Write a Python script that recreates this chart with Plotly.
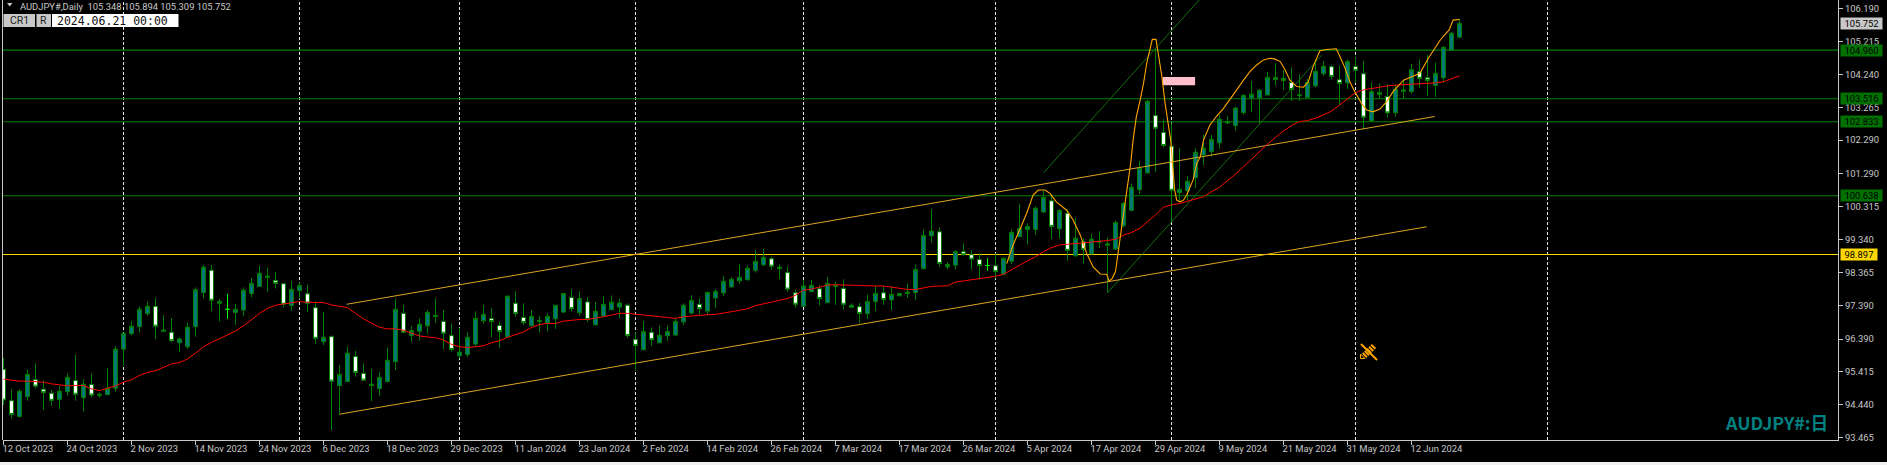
import plotly.graph_objects as go

opens = [95.49,94.56,94.09,94.68,95.19,94.90,94.78,94.60,94.83,95.16,
94.65,95.04,94.72,94.74,94.93,96.09,96.55,96.76,97.14,97.36,
96.62,96.59,96.28,96.16,96.76,97.77,98.43,97.45,97.27,97.18,
97.25,97.74,97.95,98.22,98.13,98.03,97.38,97.83,97.73,97.32,
96.31,96.46,95.01,95.13,95.87,95.37,95.01,94.92,95.13,95.72,
97.15,96.49,96.62,96.78,97.06,96.91,96.49,95.89,95.93,96.24,
96.93,97.00,96.79,96.45,97.45,97.03,96.78,96.91,96.86,96.99,
97.19,97.62,97.17,97.49,96.81,97.07,97.26,97.34,97.39,96.38,
96.07,96.59,96.28,96.49,96.51,96.90,97.16,97.42,97.22,97.61,
97.76,97.94,98.12,98.15,98.43,98.59,98.77,98.48,98.36,97.76,
97.36,97.80,97.88,97.47,97.95,97.89,97.33,97.35,97.14,97.50,
97.76,97.55,97.67,97.74,97.77,98.48,99.45,99.57,98.53,98.58,
98.98,98.89,98.75,98.57,98.56,98.31,98.70,99.43,99.64,99.64,
100.16,100.49,99.66,100.12,98.86,99.28,98.92,99.26,99.17,99.06,
99.75,100.21,100.82,101.32,103.02,102.52,102.11,100.73,100.79,101.18,
101.85,101.95,102.21,102.80,102.72,103.11,103.54,103.54,103.63,104.09,
104.12,104.00,103.61,103.56,103.90,104.26,104.47,104.08,103.99,104.47,
104.26,102.86,103.64,103.58,103.10,103.74,103.73,104.32,104.14,103.91,
104.14,104.96,105.348]
highs = [95.82,94.90,94.90,95.49,95.67,95.17,94.88,95.00,95.37,95.92,
95.20,95.37,94.80,95.52,96.18,96.58,96.93,97.35,97.50,97.60,
97.10,97.01,96.44,96.88,97.92,98.58,98.59,97.57,97.73,97.43,
97.92,98.20,98.56,98.51,98.38,98.03,98.11,98.07,98.00,97.50,
97.19,96.50,95.62,96.16,96.04,95.67,95.50,95.42,96.14,97.58,
97.40,96.77,97.00,97.25,97.59,97.25,96.85,96.72,96.59,97.21,
97.40,97.30,96.90,97.68,97.81,97.45,97.25,97.07,97.15,97.39,
97.76,97.86,97.81,97.63,97.49,97.66,97.68,97.59,97.45,96.59,
96.92,96.73,96.79,96.79,97.02,97.45,97.69,97.59,97.79,97.87,
98.26,98.23,98.60,98.57,99.03,99.06,98.83,98.60,98.54,97.86,
98.14,98.14,97.99,98.23,98.09,98.16,97.45,97.46,97.71,97.96,
97.96,97.96,97.74,98.04,98.60,99.64,100.24,99.70,98.67,99.02,
99.23,99.03,98.93,98.79,98.93,98.81,99.64,100.40,99.82,100.33,
100.79,100.68,100.24,100.24,99.99,99.38,99.52,99.59,99.40,99.90,
100.45,101.00,101.67,103.48,105.01,102.91,102.79,102.05,101.22,102.05,
102.46,102.44,103.04,103.01,103.28,103.64,104.04,103.80,104.32,104.57,
104.37,104.45,104.24,104.11,104.69,104.64,104.52,104.49,104.68,104.75,
104.64,104.00,103.97,103.95,103.94,104.07,104.55,104.69,104.82,104.59,
105.08,105.50,105.894]
lows = [94.43,94.03,94.07,94.56,94.93,94.29,94.41,94.31,94.71,94.56,
94.24,94.66,94.65,94.74,94.83,95.59,96.49,96.58,97.08,96.39,
96.61,96.30,96.01,96.10,96.46,97.60,97.22,96.91,96.99,96.81,
97.07,97.63,97.94,97.79,97.89,97.32,97.22,97.57,97.20,96.24,
96.21,93.69,94.16,95.13,95.27,95.16,94.55,94.71,95.10,95.47,
96.56,96.31,96.34,96.56,96.87,96.09,96.01,95.81,95.86,96.16,
96.85,96.44,96.13,96.43,97.05,96.80,96.78,96.58,96.62,96.69,
97.16,97.22,97.08,96.90,96.80,97.05,97.25,97.02,96.42,95.45,
96.06,96.19,96.26,96.33,96.48,96.81,97.12,97.12,97.10,97.31,
97.67,97.91,98.03,98.12,98.36,98.56,98.44,98.17,97.79,97.32,
97.35,97.77,97.38,97.45,97.40,97.26,97.32,96.86,96.98,97.22,
97.40,97.25,97.67,97.61,97.55,98.45,99.25,98.53,98.46,98.46,
98.87,98.46,98.16,98.42,98.19,98.28,98.62,99.41,99.19,99.48,
100.13,99.36,99.38,98.71,98.83,98.63,98.89,99.09,97.77,99.03,
99.69,100.17,100.69,101.29,101.35,102.08,99.87,100.46,100.51,100.87,
101.55,101.80,102.03,102.76,102.57,103.04,103.12,102.77,103.63,103.91,
103.78,103.45,103.45,103.54,103.85,104.19,104.11,103.33,103.81,103.99,
102.61,102.84,103.53,102.96,102.99,103.53,103.66,103.83,103.60,103.57,
104.00,104.94,105.309]
closes = [94.58,94.15,94.84,95.34,94.99,94.80,94.57,94.84,95.25,94.75,
95.05,94.73,94.75,94.93,96.09,96.56,96.77,97.27,97.36,96.77,
96.65,96.34,96.39,96.74,97.85,98.52,97.54,97.50,97.27,97.27,
97.84,98.04,98.34,98.25,98.04,97.42,97.86,97.98,97.45,96.41,
96.44,95.14,95.34,95.97,95.40,95.17,95.05,95.25,95.76,97.27,
96.59,96.64,96.83,97.18,97.09,96.56,96.08,96.00,96.44,97.00,
97.12,96.91,96.61,97.66,97.15,96.88,97.06,96.94,97.06,97.39,
97.74,97.29,97.59,96.97,97.21,97.42,97.48,97.46,96.49,96.20,
96.61,96.37,96.50,96.61,96.91,97.39,97.53,97.29,97.77,97.80,
98.10,98.16,98.22,98.49,98.69,98.81,98.55,98.52,97.87,97.42,
97.96,97.98,97.59,98.04,97.99,97.42,97.39,97.15,97.50,97.74,
97.56,97.71,97.74,97.78,98.45,99.46,99.59,98.63,98.60,98.98,
98.89,98.76,98.57,98.57,98.39,98.78,99.55,99.67,99.73,100.27,
100.59,99.73,100.20,99.02,99.38,99.05,99.35,99.29,99.21,99.84,
100.41,100.89,101.46,103.44,102.64,102.13,100.80,100.83,101.07,101.93,
102.05,102.31,102.91,102.84,103.24,103.62,103.65,103.77,104.15,104.15,
104.06,103.79,103.63,104.00,104.33,104.48,104.18,103.97,104.62,104.36,
102.97,103.73,103.70,103.10,103.80,103.78,104.38,104.12,104.06,104.27,
105.04,105.46,105.752]
ma_values = [95.20,95.16,95.14,95.14,95.13,95.11,95.06,95.03,95.00,95.01,
95.01,94.91,94.86,94.93,95.00,95.11,95.18,95.31,95.40,95.45,
95.55,95.65,95.69,95.80,95.97,96.16,96.29,96.39,96.51,96.63,
96.78,96.96,97.15,97.30,97.39,97.43,97.47,97.50,97.48,97.48,
97.47,97.40,97.35,97.32,97.15,96.99,96.86,96.74,96.69,96.69,
96.65,96.56,96.48,96.45,96.43,96.36,96.23,96.16,96.14,96.16,
96.19,96.28,96.34,96.44,96.53,96.60,96.73,96.82,96.85,96.85,
96.92,96.95,96.97,96.97,97.00,97.05,97.10,97.15,97.15,97.13,
97.09,97.07,97.06,97.03,97.00,97.05,97.07,97.10,97.11,97.12,
97.15,97.20,97.24,97.29,97.38,97.43,97.48,97.52,97.59,97.69,
97.84,97.87,97.94,97.99,98.00,98.00,98.00,97.98,97.97,97.97,
97.96,97.93,97.89,97.86,97.86,97.90,97.95,97.96,97.97,98.08,
98.11,98.14,98.17,98.22,98.25,98.31,98.45,98.58,98.71,98.83,
98.98,99.10,99.18,99.20,99.22,99.24,99.25,99.28,99.31,99.35,
99.47,99.55,99.67,99.87,100.07,100.30,100.37,100.41,100.48,100.56,
100.61,100.76,100.89,101.09,101.28,101.50,101.73,101.95,102.17,102.37,
102.56,102.72,102.84,102.87,102.94,103.04,103.15,103.33,103.51,103.70,
103.78,103.82,103.87,103.90,103.92,103.93,103.95,103.97,103.97,103.99,
104.02,104.10,104.20]
curve_bars = [125.4,126.2,127.1,127.9,128.7,129.35,130.2,130.8,131.6,132.9,133.7,134.6,135.4,136.2,137.1,137.9,
138.2,138.6,139.0,139.3,139.5,139.8,140.4,140.9,141.2,141.6,142.1,142.5,142.9,143.3,143.6,144.06,144.35,144.8,
145.2,145.6,145.9,146.15,146.4,146.65,147.06,147.5,147.9,148.7,149.15,149.6,150,150.8,151.6,152.5,153.3,154.15,
155,155.8,156.65,157.5,158.3,158.9,159.6,160.2,160.8,161.65,162.5,163.1,163.7,164.55,165.4,166.6,167.06,167.7,
168.3,168.9,169.75,170.4,171.2,172.06,172.9,173.7,175,177.06,178.1,178.9,179.6,180.2,180.7,181.2,181.8,182]
curve_prices = [98.63,99.18,99.67,100.12,100.66,100.81,100.81,100.71,100.46,100.21,99.92,99.47,98.93,98.53,98.32,98.31,
98.11,98.19,98.39,98.83,99.24,99.77,100.81,101.60,102.29,102.98,103.50,103.97,104.57,105.01,105.28,105.28,104.86,104.17,
103.38,102.79,102.29,101.50,100.81,100.51,100.46,100.51,100.66,101.11,101.60,101.80,102.29,102.74,102.99,103.23,103.48,103.78,
104.07,104.32,104.52,104.67,104.72,104.70,104.62,104.37,104.07,103.88,103.86,104.02,104.47,104.94,104.98,105.00,104.77,104.42,
104.02,103.73,103.38,103.18,103.13,103.21,103.43,103.73,104.07,104.27,104.72,105.01,105.26,105.43,105.56,105.85,105.87,105.87]
channel_upper_bars = [42.9, 178.9]
channel_upper_prices = [97.42, 102.99]
channel_lower_bars = [42.0, 177.9]
channel_lower_prices = [94.16, 99.72]
fan_a_bars = [130.0, 149.5]
fan_a_prices = [101.32, 106.46]
fan_b_bars = [138.0, 164.77]
fan_b_prices = [97.76, 104.81]
level_prices = [104.960, 103.516, 102.833, 100.638]
level_labels = ["104.960", "103.516", "102.833", "100.638"]
yellow_price = 98.897
last_price = 105.752
separator_bars = [15, 37, 57, 79, 100, 124, 146, 169, 193]
x_tick_bars = list(range(0, 177, 8))
x_tick_labels = ["12 Oct 2023","24 Oct 2023","2 Nov 2023","14 Nov 2023","24 Nov 2023","6 Dec 2023","18 Dec 2023",
"29 Dec 2023","11 Jan 2024","23 Jan 2024","2 Feb 2024","14 Feb 2024","26 Feb 2024","7 Mar 2024","17 Mar 2024",
"26 Mar 2024","5 Apr 2024","17 Apr 2024","29 Apr 2024","9 May 2024","21 May 2024","31 May 2024","12 Jun 2024"]
y_ticks = [106.190,105.215,104.240,103.265,102.290,101.290,100.315,99.340,98.365,97.390,96.390,95.415,94.440,93.465]
y_tick_labels = ["%.3f" % v for v in y_ticks]
flat_bars = [28, 123]

bars = list(range(len(opens)))
if not (len(opens) == len(highs) == len(lows) == len(closes) == len(ma_values) == 183):
    raise SystemExit(f"{len(opens)} {len(highs)} {len(lows)} {len(closes)} {len(ma_values)}")

W, H = 1887, 465
L, R, T, B = 3, 49, 0, 25
PW, PH = W - L - R, H - T - B
px = lambda v: (v - L) / PW
py = lambda v: 1 - (v - T) / PH

TXT = "#C8C8C8"
FONT = "Roboto, 'Liberation Sans', sans-serif"
FS = 9.4
GREEN = "#008000"

fig = go.Figure()
line_trace = lambda xs, ys, color, w, dash="solid": go.Scatter(
    x=xs, y=ys, mode="lines", hoverinfo="skip", showlegend=False,
    line=dict(color=color, width=w, dash=dash))
fig.add_trace(line_trace(fan_a_bars, fan_a_prices, "#157a15", 0.9))
fig.add_trace(line_trace(fan_b_bars, fan_b_prices, "#157a15", 0.9))
fig.add_trace(line_trace(channel_upper_bars, channel_upper_prices, "#DAA520", 1))
fig.add_trace(line_trace(channel_lower_bars, channel_lower_prices, "#DAA520", 1))
fig.add_trace(line_trace(bars, ma_values, "#FF0000", 1))
fig.add_trace(line_trace(curve_bars, curve_prices, "#FFA500", 1.1))

keep = [i for i in bars if i not in flat_bars]
fig.add_trace(go.Candlestick(
    x=keep,
    open=[opens[i] for i in keep], high=[highs[i] for i in keep],
    low=[lows[i] for i in keep], close=[closes[i] for i in keep],
    whiskerwidth=0, hoverinfo="skip", showlegend=False,
    increasing=dict(line=dict(color=GREEN, width=1), fillcolor="#007878"),
    decreasing=dict(line=dict(color=GREEN, width=1), fillcolor="#FFFFFF"),
))
fig.add_trace(go.Candlestick(
    x=flat_bars,
    open=[opens[i] for i in flat_bars], high=[highs[i] for i in flat_bars],
    low=[lows[i] for i in flat_bars], close=[closes[i] for i in flat_bars],
    whiskerwidth=0, hoverinfo="skip", showlegend=False,
    increasing=dict(line=dict(color="#00FF00", width=1), fillcolor="#00FF00"),
    decreasing=dict(line=dict(color="#00FF00", width=1), fillcolor="#00FF00"),
))

shapes = []
for b in separator_bars:
    shapes.append(dict(type="line", xref="x", yref="paper", x0=b, x1=b, y0=0, y1=1, layer="below",
                       line=dict(color="#E8E8E8", width=1, dash="3px,2px")))
for p in level_prices:
    shapes.append(dict(type="line", xref="paper", yref="y", x0=0, x1=1, y0=p, y1=p, layer="below",
                       line=dict(color=GREEN, width=1.1)))
shapes.append(dict(type="line", xref="paper", yref="y", x0=0, x1=1, y0=yellow_price, y1=yellow_price, layer="below",
                   line=dict(color="#FFD700", width=1.2)))
# pink rectangle object on the chart
shapes.append(dict(type="rect", xref="x", yref="y", x0=144.9, x1=148.95, y0=103.92, y1=104.16, layer="below",
                   fillcolor="#FFC0CB", line=dict(width=0)))
# pencil icon
ICON = "#FFA500"
shapes.append(dict(type="line", xref="paper", yref="paper", x0=px(1361), y0=py(344), x1=px(1377), y1=py(360),
                   line=dict(color=ICON, width=2)))
shapes.append(dict(type="line", xref="paper", yref="paper", x0=px(1374), y0=py(346), x1=px(1364), y1=py(356),
                   line=dict(color=ICON, width=6, dash="2px,1px")))
shapes.append(dict(type="path", xref="paper", yref="paper",
                   path=f"M {px(1360.5)} {py(354)} L {px(1360.5)} {py(358.5)} L {px(1365)} {py(358.5)} Z",
                   line=dict(color=ICON, width=1), fillcolor="rgba(0,0,0,0)"))
# frame: left rule and bottom strip of the window
shapes.append(dict(type="line", xref="paper", yref="paper", x0=px(2.5), x1=px(2.5), y0=py(0), y1=py(440),
                   line=dict(color=TXT, width=1)))
shapes.append(dict(type="rect", xref="paper", yref="paper", x0=px(0), x1=px(1887), y0=py(462), y1=py(465),
                   fillcolor="#F0F0F0", line=dict(width=0)))
# top-left panel
shapes.append(dict(type="rect", xref="paper", yref="paper", x0=px(3.5), x1=px(35), y0=py(14), y1=py(27),
                   fillcolor="#C8C8C8", line=dict(width=0)))
shapes.append(dict(type="rect", xref="paper", yref="paper", x0=px(36.5), x1=px(51), y0=py(14), y1=py(27),
                   fillcolor="#C8C8C8", line=dict(width=0)))
shapes.append(dict(type="rect", xref="paper", yref="paper", x0=px(52), x1=px(178.5), y0=py(14), y1=py(27),
                   fillcolor="#FFFFFF", line=dict(width=0)))
shapes.append(dict(type="path", xref="paper", yref="paper",
                   path=f"M {px(7)} {py(3)} L {px(12.5)} {py(3)} L {px(9.75)} {py(6.5)} Z",
                   line=dict(width=0), fillcolor=TXT))

ann = []
def text(xp, yp, s, color=TXT, size=FS, anchor="left", family=FONT):
    ann.append(dict(xref="paper", yref="paper", x=px(xp), y=py(yp), text=s, showarrow=False,
                    xanchor=anchor, yanchor="middle", align="left", borderpad=0,
                    font=dict(family=family, size=size, color=color)))

text(18.5, 6, "AUDJPY#,Daily&nbsp;&nbsp;105.348 105.894 105.309 105.752")
text(19, 20.5, "CR1", color="#222222", size=10.5, anchor="center")
text(43.5, 20.5, "R", color="#222222", size=10.5, anchor="center")
text(55.5, 20.5, "2024.06.21 00:00", color="#101010", size=11.5, family="'DejaVu Sans Mono', monospace")
text(1828.5, 421.5, "<b>AUDJPY#:日</b>", color="#008080", size=17.8, anchor="right",
     family="'Noto Sans CJK JP', 'Noto Sans', sans-serif")

def price_box(p, s, bg, width=41):
    ann.append(dict(xref="paper", yref="y", x=1, y=p, xshift=2, xanchor="left", yanchor="middle",
                    text=s, showarrow=False, bgcolor=bg, width=width, height=11, align="center",
                    borderpad=0, font=dict(family=FONT, size=FS, color="#000000")))

for p, s in zip(level_prices, level_labels):
    price_box(p, s, "#007000")
price_box(yellow_price, "98.897", "#FFD700", width=36)
price_box(last_price, "105.752", "#C8C8C8")

fig.update_layout(
    width=W, height=H, autosize=False,
    margin=dict(l=L, r=R, t=T, b=B, pad=0),
    paper_bgcolor="#000000", plot_bgcolor="#000000",
    showlegend=False, shapes=shapes, annotations=ann,
    xaxis=dict(
        type="linear", range=[-0.0625, 229.3125], showgrid=False, zeroline=False,
        rangeslider=dict(visible=False),
        tickmode="array", tickvals=x_tick_bars, ticktext=x_tick_labels,
        ticks="outside", ticklen=4, tickwidth=1, tickcolor=TXT,
        ticklabelposition="outside right", tickangle=0, ticklabelshift=-2,
        tickfont=dict(family=FONT, size=FS, color=TXT),
        showline=True, linecolor=TXT, linewidth=1,
    ),
    yaxis=dict(
        range=[93.394, 106.447], side="right", showgrid=False, zeroline=False,
        tickmode="array", tickvals=y_ticks, ticktext=y_tick_labels,
        ticks="outside", ticklen=4, tickwidth=1, tickcolor=TXT,
        tickfont=dict(family=FONT, size=FS, color=TXT),
        showline=True, linecolor=TXT, linewidth=1,
    ),
)
fig.write_html("out.html", config=dict(displayModeBar=False),
               post_script="document.body.style.margin='0';document.documentElement.style.overflow='hidden';document.documentElement.style.background='#000';")
